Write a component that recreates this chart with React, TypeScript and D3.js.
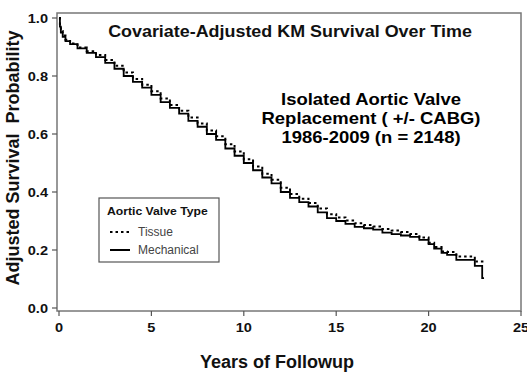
import React from "react";
import * as d3 from "d3";

const years = [0, 0.05, 0.1, 0.2, 0.35, 0.6, 1.0, 1.5, 2.0, 2.5, 3.0, 3.5, 4.0, 4.5, 5.0, 5.5, 6.0, 6.5, 7.0, 7.5, 8.0, 8.5, 9.0, 9.5, 10.0, 10.5, 11.0, 11.5, 12.0, 12.5, 13.0, 13.5, 14.0, 14.5, 15.0, 15.5, 16.0, 16.5, 17.0, 17.5, 18.0, 18.5, 19.0, 19.5, 20.0, 20.3, 20.7, 21.0, 21.5, 22.5, 22.9, 23.0];
const mechanical = [1.0, 0.97, 0.95, 0.935, 0.92, 0.91, 0.895, 0.88, 0.865, 0.845, 0.825, 0.8, 0.78, 0.76, 0.735, 0.71, 0.69, 0.67, 0.645, 0.625, 0.6, 0.58, 0.55, 0.525, 0.5, 0.475, 0.45, 0.43, 0.4, 0.38, 0.365, 0.35, 0.33, 0.31, 0.3, 0.29, 0.28, 0.275, 0.27, 0.26, 0.255, 0.25, 0.245, 0.235, 0.22, 0.205, 0.19, 0.183, 0.166, 0.145, 0.103, 0.103];
const tissue = [1.0, 0.97, 0.955, 0.94, 0.925, 0.912, 0.898, 0.885, 0.872, 0.855, 0.835, 0.812, 0.79, 0.77, 0.747, 0.722, 0.7, 0.68, 0.657, 0.636, 0.612, 0.592, 0.565, 0.54, 0.513, 0.488, 0.463, 0.442, 0.415, 0.393, 0.377, 0.362, 0.343, 0.323, 0.312, 0.302, 0.292, 0.286, 0.281, 0.272, 0.267, 0.262, 0.255, 0.243, 0.225, 0.21, 0.195, 0.193, 0.178, 0.16, 0.16, 0.16];
const xTicks = [0, 5, 10, 15, 20, 25];
const yTicks = [0, 0.2, 0.4, 0.6, 0.8, 1.0];
const annotation = ["Isolated Aortic Valve", "Replacement ( +/- CABG)", "1986-2009 (n = 2148)"];
const legendItems = [
  { label: "Tissue", dash: "2.5,3" },
  { label: "Mechanical", dash: "none" },
];

const FONT = "Liberation Sans, Arial, sans-serif";

function T(props: {
  x: number;
  y: number;
  sx?: number;
  size: number;
  bold?: boolean;
  anchor?: string;
  fill?: string;
  children: React.ReactNode;
}) {
  const { x, y, sx = 1.12, size, bold, anchor = "start", fill = "#111", children } = props;
  return (
    <text
      transform={`translate(${x},${y}) scale(${sx},1)`}
      fontSize={size}
      fontWeight={bold ? "bold" : "normal"}
      textAnchor={anchor}
      fill={fill}
    >
      {children}
    </text>
  );
}

export default function App() {
  const W = 527, H = 378;
  const frame = { left: 57, top: 13, right: 521, bottom: 311 };
  const x = d3.scaleLinear().domain([0, 25]).range([59, 521]);
  const y = d3.scaleLinear().domain([0, 1]).range([308, 18]);

  const line = d3
    .line<number>()
    .x((_, i) => x(years[i]))
    .y((d) => y(d))
    .curve(d3.curveStepAfter);

  return (
    <svg
      width={W}
      height={H}
      style={{ position: "absolute", left: 0, top: 0, background: "#fff" }}
      fontFamily={FONT}
    >
      <rect
        x={frame.left}
        y={frame.top}
        width={frame.right - frame.left}
        height={frame.bottom - frame.top}
        fill="none"
        stroke="#777"
        strokeWidth={1.5}
      />
      {yTicks.map((t) => (
        <g key={"y" + t}>
          <line x1={52} x2={frame.left} y1={y(t)} y2={y(t)} stroke="#555" strokeWidth={1.2} />
          <T x={48} y={y(t) + 5} size={13} bold anchor="end">
            {t.toFixed(1)}
          </T>
        </g>
      ))}
      {xTicks.map((t) => (
        <g key={"x" + t}>
          <line x1={x(t)} x2={x(t)} y1={frame.bottom} y2={frame.bottom + 5} stroke="#555" strokeWidth={1.2} />
          <T x={x(t)} y={332} size={13} bold anchor="middle">
            {t}
          </T>
        </g>
      ))}
      <path d={line(tissue) || ""} fill="none" stroke="#000" strokeWidth={2} strokeDasharray="2.5,3" />
      <path d={line(mechanical) || ""} fill="none" stroke="#000" strokeWidth={1.8} />

      <T x={290} y={37} size={16} bold anchor="middle">
        Covariate-Adjusted KM Survival Over Time
      </T>
      {annotation.map((s, i) => (
        <T key={s} x={371} y={105 + i * 19} size={16.5} bold anchor="middle" fill="#000">
          {s}
        </T>
      ))}

      <rect x={99} y={198} width={120} height={64} fill="#fff" stroke="#555" strokeWidth={1.2} />
      <T x={107} y={215} size={11.5} sx={1.06} bold>
        Aortic Valve Type
      </T>
      {legendItems.map((it, i) => (
        <g key={it.label}>
          <line
            x1={110}
            x2={130}
            y1={232 + i * 18}
            y2={232 + i * 18}
            stroke="#000"
            strokeWidth={2}
            strokeDasharray={it.dash}
          />
          <T x={138} y={236 + i * 18} size={12} sx={1.0} fill="#444">
            {it.label}
          </T>
        </g>
      ))}

      <T x={277} y={368} size={18} sx={1.0} bold anchor="middle">
        Years of Followup
      </T>
      <text
        transform="translate(19,158) rotate(-90)"
        textAnchor="middle"
        fontSize={18}
        fontWeight="bold"
        fill="#111"
        xmlSpace="preserve"
      >
        Adjusted Survival  Probability
      </text>
    </svg>
  );
}
